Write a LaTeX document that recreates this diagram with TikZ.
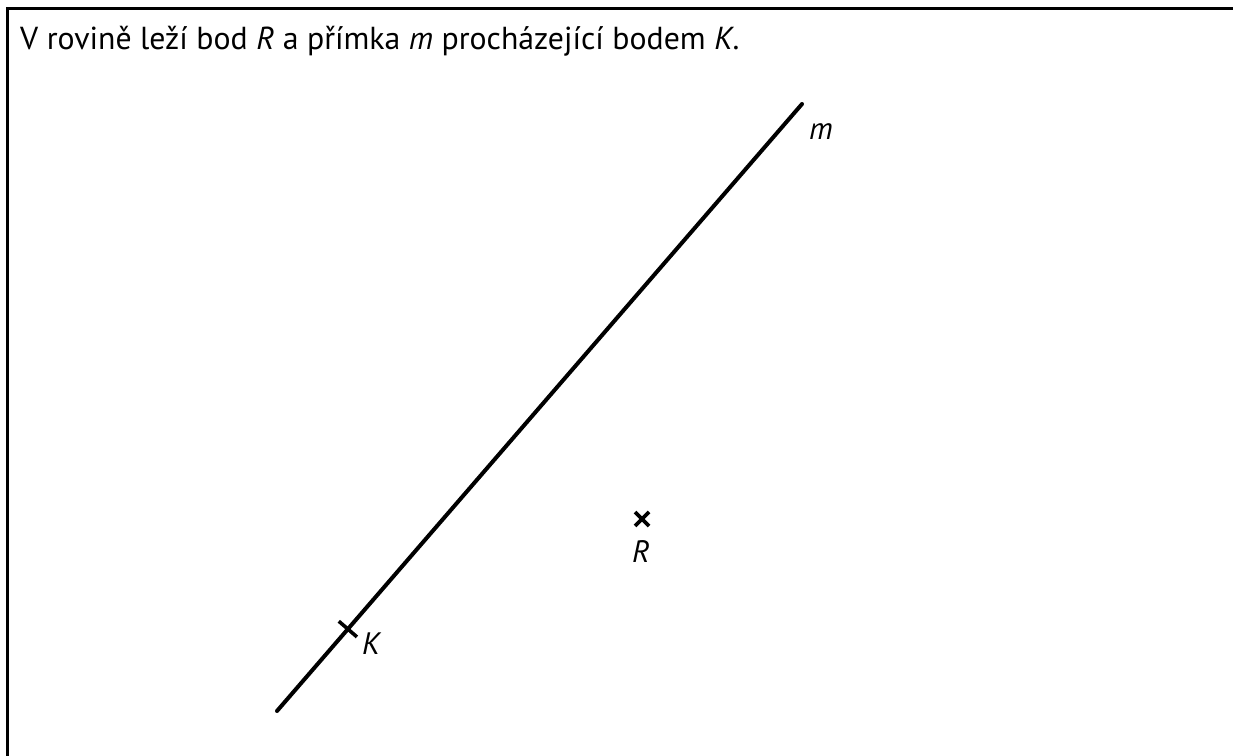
\documentclass[tikz,border=0pt]{standalone}
\usepackage{fontspec}
\setmainfont{PT Sans}
\usetikzlibrary{calc}

\tikzset{
  thickline/.style={line width=4pt, line cap=round},
  ptlabel/.style={font=\fontsize{31}{36}\selectfont\itshape, inner sep=0pt}
}

\begin{document}
\begin{tikzpicture}[x=1pt, y=-1pt]
  \useasboundingbox (0,0) rectangle (1233,755);
  % Frame
  \draw[line width=3.6pt] (7.5,756) -- (7.5,8.5) -- (1234,8.5);
  % Title
  \node[anchor=base west, inner sep=0pt, font=\fontsize{31.8}{36}\selectfont] (title) at (20,49)
    {V rovině leží bod \textit{R} a přímka \textit{m} procházející bodem \textit{K}.};
  % Line m
  \coordinate (mstart) at (277,711);
  \coordinate (mend) at (802,104);
  \draw[thickline] (mstart) -- (mend);
  \node[ptlabel, anchor=base west] (labm) at (809,139) {m};
  % Point K
  \coordinate (K) at ($(mstart)!0.135!(mend)$);
  \draw[line width=3.6pt] ($(K)!12pt!90:(mend)$) -- ($(K)!12pt!-90:(mend)$);
  \node[ptlabel, anchor=base west] (labK) at (362,654) {K};
  % Point R
  \coordinate (R) at (642,519);
  \draw[line width=3.8pt] ($(R)+(-7,-7)$) -- ($(R)+(7,7)$);
  \draw[line width=3.8pt] ($(R)+(-7,7)$) -- ($(R)+(7,-7)$);
  \node[ptlabel, anchor=base] (labR) at (641,562) {R};
\end{tikzpicture}
\end{document}
